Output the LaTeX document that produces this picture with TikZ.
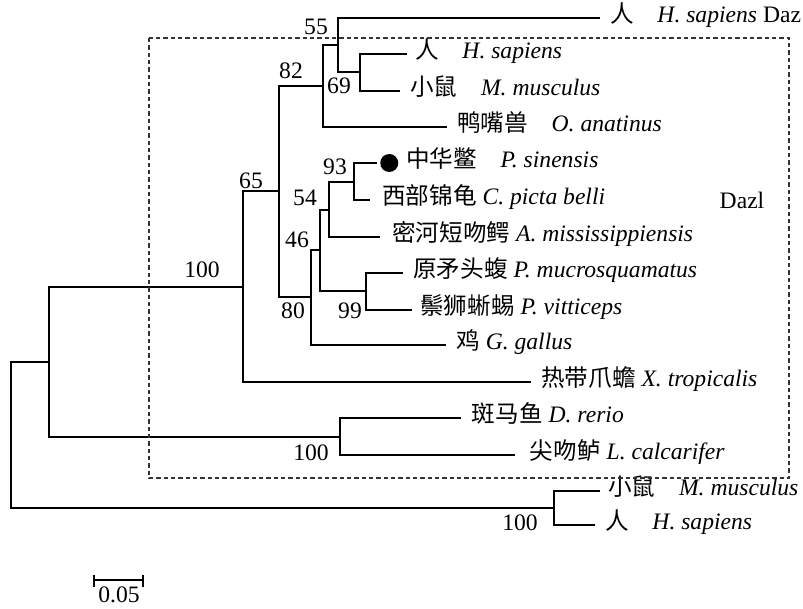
\documentclass[tikz,border=0pt]{standalone}
\usepackage{fontspec}
\setmainfont{Liberation Serif}
\newfontfamily\cjk{Noto Sans CJK SC}
\newcommand{\zh}[1]{{\cjk #1}}
\usetikzlibrary{positioning}
\frenchspacing
\tikzset{
  branch/.style={line width=0.8pt, black},
  leaflbl/.style={inner sep=0pt, anchor=west, text height=1.8ex, text depth=0.3ex},
  boot/.style={inner sep=0pt},
  genebox/.style={draw=black!80, line width=0.9pt, dash pattern=on 3.2pt off 2.3pt},
  marker/.style={circle, fill=black, inner sep=0pt, minimum size=13.5pt},
}
\begin{document}
\begin{tikzpicture}[x=0.75pt, y=-0.75pt,
  every node/.style={font=\fontsize{17.7}{21}\selectfont}]
\useasboundingbox (0,0) rectangle (803,609);

% ── internal nodes ─────────────────────────────────────────────────────
\coordinate (root)  at (11,435);
\coordinate (n100a) at (49,362);
\coordinate (n243)  at (243,287);
\coordinate (n65)   at (279,191);
\coordinate (n82)   at (323,86);
\coordinate (n55)   at (338,45);
\coordinate (n69)   at (360,72);
\coordinate (n80)   at (311,297);
\coordinate (n46)   at (320,250);
\coordinate (n54)   at (329,210);
\coordinate (n93)   at (354,182);
\coordinate (n99)   at (366,291);
\coordinate (nfish) at (340,437);
\coordinate (nout)  at (554,508);

% ── tips ───────────────────────────────────────────────────────────────
\coordinate (t-hsdz) at (600,18);
\coordinate (t-hs)   at (407,54);
\coordinate (t-mm)   at (400,91);
\coordinate (t-oa)   at (447,127);
\coordinate (t-ps)   at (377,163);
\coordinate (t-cp)   at (370,200);
\coordinate (t-am)   at (380,237);
\coordinate (t-pm)   at (403,273);
\coordinate (t-pv)   at (412,310);
\coordinate (t-gg)   at (446,345);
\coordinate (t-xt)   at (531,382);
\coordinate (t-dr)   at (461,418);
\coordinate (t-lc)   at (515,455);
\coordinate (t-mm2)  at (600,491);
\coordinate (t-hs2)  at (595,525);

% ── branches ───────────────────────────────────────────────────────────
\draw[branch] (root)  |- (n100a);
\draw[branch] (root)  |- (nout);
\draw[branch] (n100a) |- (n243);
\draw[branch] (n100a) |- (nfish);
\draw[branch] (n243)  |- (n65);
\draw[branch] (n243)  |- (t-xt);
\draw[branch] (n65)   |- (n82);
\draw[branch] (n65)   |- (n80);
\draw[branch] (n82)   |- (n55);
\draw[branch] (n82)   |- (t-oa);
\draw[branch] (n55)   |- (t-hsdz);
\draw[branch] (n55)   |- (n69);
\draw[branch] (n69)   |- (t-hs);
\draw[branch] (n69)   |- (t-mm);
\draw[branch] (n80)   |- (n46);
\draw[branch] (n80)   |- (t-gg);
\draw[branch] (n46)   |- (n54);
\draw[branch] (n46)   |- (n99);
\draw[branch] (n54)   |- (n93);
\draw[branch] (n54)   |- (t-am);
\draw[branch] (n93)   |- (t-ps);
\draw[branch] (n93)   |- (t-cp);
\draw[branch] (n99)   |- (t-pm);
\draw[branch] (n99)   |- (t-pv);
\draw[branch] (nfish) |- (t-dr);
\draw[branch] (nfish) |- (t-lc);
\draw[branch] (nout)  |- (t-mm2);
\draw[branch] (nout)  |- (t-hs2);

% ── leaf labels ────────────────────────────────────────────────────────
\node[leaflbl, right=7.5pt of t-hsdz] (l-hsdz) {\zh{人}\quad\textit{H. sapiens} Daz};
\node[leaflbl, right=6pt of t-hs]     (l-hs)   {\zh{人}\quad\textit{H. sapiens}};
\node[leaflbl, right=7.5pt of t-mm]   (l-mm)   {\zh{小鼠}\quad\textit{M. musculus}};
\node[leaflbl, right=7.5pt of t-oa]   (l-oa)   {\zh{鸭嘴兽}\quad\textit{O. anatinus}};
\node[marker,  right=2.25pt of t-ps]  (dot)    {};
\node[leaflbl, right=5.5pt of dot]    (l-ps)   {\zh{中华鳖}\quad\textit{P. sinensis}};
\node[leaflbl, right=9pt of t-cp]     (l-cp)   {\zh{西部锦龟} \textit{C. picta belli}};
\node[leaflbl, right=9pt of t-am]     (l-am)   {\zh{密河短吻鳄} \textit{A. mississippiensis}};
\node[leaflbl, right=7.5pt of t-pm]   (l-pm)   {\zh{原矛头蝮} \textit{P. mucrosquamatus}};
\node[leaflbl, right=6pt of t-pv]     (l-pv)   {\zh{鬃狮蜥蜴} \textit{P. vitticeps}};
\node[leaflbl, right=7.5pt of t-gg]   (l-gg)   {\zh{鸡} \textit{G. gallus}};
\node[leaflbl, right=7.5pt of t-xt]   (l-xt)   {\zh{热带爪蟾} \textit{X. tropicalis}};
\node[leaflbl, right=8pt of t-dr]     (l-dr)   {\zh{斑马鱼} \textit{D. rerio}};
\node[leaflbl, right=11pt of t-lc]    (l-lc)   {\zh{尖吻鲈} \textit{L. calcarifer}};
\node[leaflbl, right=6pt of t-mm2]    (l-mm2)  {\zh{小鼠}\quad\textit{M. musculus}};
\node[leaflbl, right=7.5pt of t-hs2]  (l-hs2)  {\zh{人}\quad\textit{H. sapiens}};

% ── bootstrap values ───────────────────────────────────────────────────
\node[boot] (b55)   at (316,27)  {55};
\node[boot] (b82)   at (291,71)  {82};
\node[boot] (b69)   at (339,86)  {69};
\node[boot] (b65)   at (251,181) {65};
\node[boot] (b100a) at (202,270) {100};
\node[boot] (b93)   at (335,167) {93};
\node[boot] (b54)   at (305,198) {54};
\node[boot] (b46)   at (297,240) {46};
\node[boot] (b80)   at (293,311) {80};
\node[boot] (b99)   at (350,311) {99};
\node[boot] (bfish) at (311,453) {100};
\node[boot] (bout)  at (520,523) {100};

% ── Dazl box ───────────────────────────────────────────────────────────
\draw[genebox] (149,38) rectangle (789,478);
\node (dazl) at (742,200) {Dazl};

% ── scale bar ──────────────────────────────────────────────────────────
\coordinate (sb-l) at (94,580);
\coordinate (sb-r) at (143,580);
\draw[branch] (sb-l) -- (sb-r);
\draw[branch] ([yshift=5*0.75pt]sb-l) -- ([yshift=-7*0.75pt]sb-l);
\draw[branch] ([yshift=5*0.75pt]sb-r) -- ([yshift=-7*0.75pt]sb-r);
\node[boot] (sb-txt) at (119,595) {0.05};

\end{tikzpicture}
\end{document}
